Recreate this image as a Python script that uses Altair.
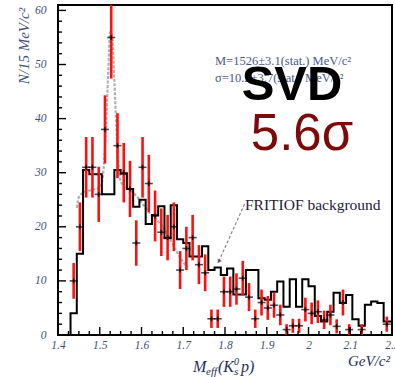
import altair as alt
import numpy as np
import pandas as pd

# ---- data -------------------------------------------------------------
# 15 MeV/c^2 bins starting at 1.400 GeV/c^2
BIN_START = 1.400
BIN_WIDTH = 0.015

# FRITIOF background histogram, one value per bin (last bin is cut at 2.2)
bg_counts = [0, 0, 4, 15, 30.5, 29.7, 29.7, 26, 26, 30.5,
             29.8, 27, 23.7, 25, 20.5, 22.2, 23.8, 17.9, 24, 17.7,
             17, 14.5, 14.5, 16.4, 12, 12.5, 11.1, 12.3, 7.5, 7.5,
             12, 12, 6.8, 6.5, 8, 9.9, 5.2, 10.3, 5.2, 10.3,
             9, 3.5, 2.5, 4.3, 7.8, 5.9, 7.4, 2.9, 1.7, 5.6,
             6.2, 5.9, 2.5, 2.5]

# measured M(K0s p) spectrum: bin index, entries, error
pt_bin = [2, 3, 4, 5, 6, 7, 8, 9, 10, 11, 12, 13, 14, 15, 16, 17, 18, 19,
          20, 21, 22, 23, 24, 25, 26, 27, 28, 29, 30, 31, 32, 33, 34, 35,
          36, 37, 38, 39, 40, 41, 42, 43, 44, 45, 46, 48, 52]
pt_count = [10, 20, 31, 31, 26, 38, 55, 35, 30, 27, 17, 31, 28, 22, 19, 18,
            20, 12, 16, 18, 13, 11.5, 3, 3, 8, 8, 8.5, 10.5, 7, 3, 6, 5,
            5.5, 3.7, 1, 1.7, 1.7, 4.7, 4, 4.3, 2.8, 3.7, 1.6, 6, 1, 1, 2]
pt_err = [3.3, 4.5, 5.6, 5.6, 5.1, 6.3, 7.6, 6, 5.5, 5.2, 4.2, 5.6, 5.3,
          4.7, 4.4, 4.2, 4.5, 3.5, 4, 4.2, 3.6, 3.4, 1.7, 1.7, 2.8, 2.8,
          2.9, 3.2, 2.6, 1.7, 2.4, 2.2, 2.3, 1.9, 1, 1.3, 1.3, 2.2, 2,
          2.1, 1.7, 1.9, 1.3, 2.4, 1, 1, 1.4]

# fitted curve (Gaussian peak on smooth background)
fit_mass = [1.445, 1.45, 1.46, 1.47, 1.48, 1.49, 1.50, 1.505, 1.51, 1.515,
            1.52, 1.525, 1.53, 1.535, 1.54, 1.545, 1.55, 1.56, 1.57, 1.58,
            1.59, 1.60, 1.62, 1.64, 1.66, 1.68, 1.70, 1.71]
fit_val = [23.5, 25.5, 26.3, 26.6, 26.8, 27, 27.2, 28, 31.5, 38.5,
           48, 56, 55, 47, 38, 31.5, 28.5, 27.3, 27, 26.3,
           25.5, 24.5, 22.5, 21, 19, 16, 13.5, 12.5]

# arrow from the "FRITIOF background" label
arrow_mass = [1.848, 1.785]
arrow_val = [24.4, 13.6]

x_labels = [1.4, 1.5, 1.6, 1.7, 1.8, 1.9, 2.0, 2.1, 2.2]
y_labels = [0, 10, 20, 30, 40, 50, 60]

# ---- tables -----------------------------------------------------------
X_MIN, X_MAX = 1.4, 2.2
Y_MIN, Y_MAX = 0, 61

edges = BIN_START + BIN_WIDTH * np.arange(len(bg_counts))
hist = pd.DataFrame({"m": list(edges) + [X_MAX],
                     "n": bg_counts + [bg_counts[-1]]})

pts = pd.DataFrame({"k": pt_bin, "n": pt_count, "e": pt_err})
pts["m"] = BIN_START + BIN_WIDTH * (pts["k"] + 0.5)
pts["lo"] = (pts["n"] - pts["e"]).clip(lower=0)
pts["hi"] = pts["n"] + pts["e"]

fit = pd.DataFrame({"m": fit_mass, "n": fit_val})
arrow = pd.DataFrame({"m": arrow_mass, "n": arrow_val})

W, H = 334, 330
LABEL_COLOR = "#3f4f7e"
TITLE_COLOR = "#24305a"
SERIF = "Liberation Serif"

xs = alt.Scale(domain=[X_MIN, X_MAX], nice=False, zero=False)
ys = alt.Scale(domain=[Y_MIN, Y_MAX], nice=False, zero=False)

x_axis = alt.Axis(values=x_labels, format="~g", ticks=False, domain=False,
                  grid=False, title=None, labelFont=SERIF,
                  labelFontStyle="italic", labelFontSize=11.5,
                  labelColor=LABEL_COLOR, labelPadding=4, labelFlush=False,
                  labelOverlap=False)
y_axis = alt.Axis(values=y_labels, ticks=False, domain=False, grid=False,
                  title=None, labelFont=SERIF, labelFontStyle="italic",
                  labelFontSize=11.5, labelColor=LABEL_COLOR, labelPadding=12)


def X(f="m"):
    return alt.X(f"{f}:Q", scale=xs, axis=x_axis)


def Y(f="n"):
    return alt.Y(f"{f}:Q", scale=ys, axis=y_axis)


# ---- axis ticks drawn inside the frame --------------------------------
y_major = pd.DataFrame({"n": list(range(0, 61, 10))})
y_minor = pd.DataFrame({"n": [v for v in range(0, 61, 2) if v % 10]})
x_major = pd.DataFrame({"m": [round(1.4 + 0.1 * i, 3) for i in range(9)]})
x_minor = pd.DataFrame({"m": [round(1.4 + 0.025 * i, 4) for i in range(33)
                              if i % 4]})


def yticks(df, length):
    return alt.Chart(df).mark_rule(color="black", strokeWidth=1.4).encode(
        y=Y(), x=alt.value(0), x2=alt.value(length))


def xticks(df, length):
    return alt.Chart(df).mark_rule(color="black", strokeWidth=1.4).encode(
        x=X(), y=alt.value(H), y2=alt.value(H - length))


# ---- data marks -------------------------------------------------------
fit_line = alt.Chart(fit).mark_line(
    color="#b0b0b0", strokeWidth=2.2, strokeDash=[3, 1.5], clip=True,
    interpolate="monotone").encode(x=X(), y=Y())

hist_line = alt.Chart(hist).mark_line(
    color="black", strokeWidth=2, interpolate="step-after", clip=True
).encode(x=X(), y=Y())

err_bars = alt.Chart(pts).mark_rule(color="#ff1010", strokeWidth=2.6,
                                    clip=True).encode(
    x=X(), y=Y("lo"), y2="hi:Q")

cross_h = alt.Chart(pts).mark_tick(color="black", orient="horizontal",
                                   size=8, thickness=1.6, clip=True).encode(
    x=X(), y=Y())
cross_v = alt.Chart(pts).mark_tick(color="black", orient="vertical",
                                   size=5, thickness=1.6, clip=True).encode(
    x=X(), y=Y())

arrow_line = alt.Chart(arrow).mark_line(
    color="#8a8a8a", strokeWidth=1.2, strokeDash=[3, 2]).encode(
    x=X(), y=Y())
arrow_head = alt.Chart(arrow.iloc[[1]]).mark_point(
    shape="triangle-up", filled=True, color="#333333", size=22,
    angle=211).encode(x=X(), y=Y())


# ---- text -------------------------------------------------------------
def label(text, x, y, size, **kw):
    kw.setdefault("baseline", "alphabetic")
    return alt.Chart(pd.DataFrame({"t": [text]})).mark_text(
        fontSize=size, **kw).encode(text="t:N", x=alt.value(x),
                                    y=alt.value(y))


texts = [
    label("M=1526±3.1(stat.) MeV/c²", 157, 60, 12.5, font=SERIF,
          color="#4a5a8c", align="left"),
    label("σ=10.2±3.7(stat.) MeV/c²", 157, 77, 12.5, font=SERIF,
          color="#4a5a8c", align="left"),
    label("SVD", 234, 95, 49, font="Liberation Sans", fontWeight="bold",
          color="black", align="center"),
    label("5.6σ", 244, 145, 51, font="Liberation Sans", color="#7d0a0a",
          align="center"),
    label("FRITIOF background", 187, 205, 15.5, font=SERIF,
          color="#1c2238", align="left"),
    label("N/15 MeV/c²", -29, 41, 15, font=SERIF, fontStyle="italic",
          color=LABEL_COLOR, angle=270, align="center"),
    label("M", 135, 367, 16, font=SERIF, fontStyle="italic",
          color=TITLE_COLOR, align="left"),
    label("eff", 148, 370, 11, font=SERIF, fontStyle="italic",
          color=TITLE_COLOR, align="left"),
    label("(K", 160, 367, 16, font=SERIF, fontStyle="italic",
          color=TITLE_COLOR, align="left"),
    label("s", 176, 370, 11, font=SERIF, fontStyle="italic",
          color=TITLE_COLOR, align="left"),
    label("0", 176, 360, 10, font=SERIF, fontStyle="italic",
          color=TITLE_COLOR, align="left"),
    label("p)", 183, 367, 16, font=SERIF, fontStyle="italic",
          color=TITLE_COLOR, align="left"),
    label("GeV/c²", 290, 361, 15, font=SERIF, fontStyle="italic",
          color=TITLE_COLOR, align="left"),
]

chart = alt.layer(
    fit_line, hist_line, err_bars, cross_h, cross_v,
    yticks(y_major, 8), yticks(y_minor, 4),
    xticks(x_major, 8), xticks(x_minor, 4),
    arrow_line, arrow_head,
    *texts,
).properties(
    width=W, height=H,
    padding={"left": 58, "top": 5, "right": 3, "bottom": 42},
    autosize=alt.AutoSizeParams(type="none"),
    background="white",
).configure_view(stroke="black", strokeWidth=2)

chart.save("out.html", embed_options={"renderer": "svg", "actions": False})
